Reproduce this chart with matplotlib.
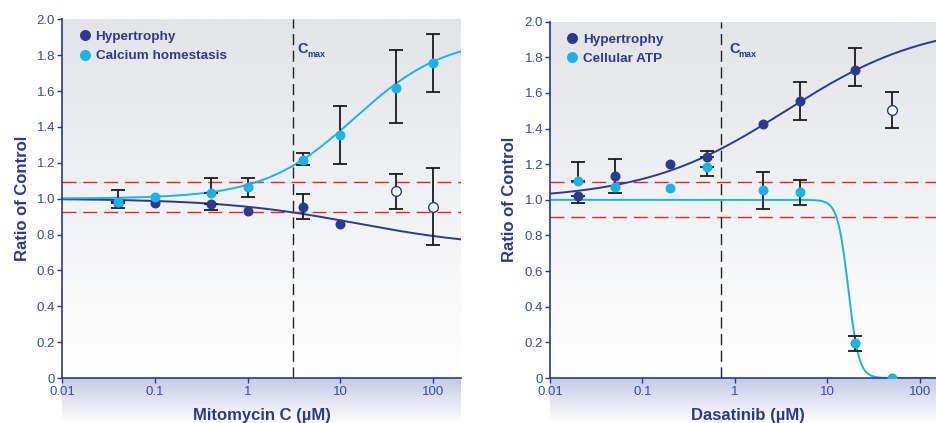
import numpy as np
import matplotlib
matplotlib.use("Agg")
import matplotlib.pyplot as plt
from matplotlib.colors import to_rgb

plt.rcParams['font.family'] = ['Liberation Sans', 'DejaVu Sans']

# ---------------- data: Mitomycin C ----------------
mito_conc = [0.04, 0.1, 0.4, 1, 4, 10, 40, 100]
mito_hyp = [0.975, 0.975, 0.97, 0.93, 0.955, 0.86, 1.04, 0.955]
mito_hyp_lo = [0.027, 0, 0.035, 0, 0.066, 0, 0.10, 0.216]
mito_hyp_hi = [0, 0, 0, 0, 0.070, 0, 0.10, 0.218]
mito_hyp_open = [False, False, False, False, False, False, True, True]
mito_ca = [0.98, 1.01, 1.03, 1.065, 1.215, 1.355, 1.615, 1.755]
mito_ca_lo = [0, 0, 0, 0.055, 0.025, 0.16, 0.192, 0.161]
mito_ca_hi = [0.07, 0, 0.083, 0.048, 0.041, 0.16, 0.214, 0.161]
mito_cmax = 3.08
mito_thresholds = [1.094, 0.925]
# fitted Hill curves (base, plateau, EC50, slope)
mito_hyp_fit = (1.0, 0.725, 15.0, 0.6)
mito_ca_fit = (1.0, 1.9, 14.3, 0.888)

# ---------------- data: Dasatinib ----------------
das_conc = [0.02, 0.05, 0.2, 0.5, 2, 5, 20, 50]
das_hyp = [1.024, 1.135, 1.204, 1.238, 1.425, 1.556, 1.727, 1.504]
das_hyp_lo = [0.039, 0.096, 0, 0, 0, 0.105, 0.088, 0.10]
das_hyp_hi = [0, 0.093, 0, 0.037, 0, 0.107, 0.127, 0.10]
das_hyp_open = [False, False, False, False, False, False, False, True]
das_atp = [1.107, 1.073, 1.069, 1.185, 1.054, 1.045, 0.195, 0.002]
das_atp_lo = [0, 0, 0, 0.052, 0.106, 0.073, 0.043, 0]
das_atp_hi = [0.108, 0, 0, 0, 0.103, 0.069, 0.043, 0]
das_cmax = 0.71
das_thresholds = [1.103, 0.906]
das_hyp_fit = (1.0, 2.0, 3.54, 0.566)
das_atp_fit = (1.0, 0.0, 16.8, 7.55)

y_ticks = [0, 0.2, 0.4, 0.6, 0.8, 1.0, 1.2, 1.4, 1.6, 1.8, 2.0]
y_tick_labels = ['0', '0.2', '0.4', '0.6', '0.8', '1.0', '1.2', '1.4', '1.6', '1.8', '2.0']
x_ticks = [0.01, 0.1, 1, 10, 100]
x_tick_labels = ['0.01', '0.1', '1', '10', '100']

NAVY = '#2b3990'
CYAN = '#19b3ea'
RED = '#e0262c'
TICK = '#3b4a9c'


def hill(x, base, plateau, ec50, n):
    return base + (plateau - base) / (1 + (ec50 / x) ** n)


def gradient(fig, rect, top, bottom, z):
    bax = fig.add_axes(rect, zorder=z)
    t = np.array(to_rgb(top)); b = np.array(to_rgb(bottom))
    f = np.linspace(0, 1, 256)[:, None]
    img = (t * (1 - f) + b * f)[:, None, :]
    bax.imshow(img, aspect='auto', extent=[0, 1, 0, 1], interpolation='bilinear')
    bax.set_axis_off()
    return bax


W, H = 937, 423
fig = plt.figure(figsize=(W / 100, H / 100), dpi=100)


def panel(px_left, px_right, px_top, xmax, conc, hyp, hyp_lo, hyp_hi, hyp_open,
          other, other_lo, other_hi, other_label, hyp_fit, other_fit,
          cmax, thresholds, xlabel, xlabel_x, ylabel_x, cmax_pos, leg_anchor):
    px_bottom = 378
    rect = [px_left / W, 1 - px_bottom / H, (px_right - px_left) / W, (px_bottom - px_top) / H]
    gradient(fig, rect, '#e2e4e8', '#ffffff', 0)
    gradient(fig, [px_left / W, 0, (px_right - px_left) / W, 1 - px_bottom / H], '#c3c9e4', '#ffffff', 0)
    ax = fig.add_axes(rect, zorder=2)
    ax.set_facecolor('none')
    ax.set_xscale('log')
    ax.set_xlim(0.01, xmax)
    ax.set_ylim(0, 2.0)

    for yv in thresholds:
        ax.axhline(yv, color=RED, lw=1.0, dashes=(10, 5), zorder=1)
    ax.axvline(cmax, color='#222222', lw=1.0, dashes=(8, 4), zorder=1)

    xs = np.logspace(-2, np.log10(xmax), 400)
    ax.plot(xs, hill(xs, *hyp_fit), color=NAVY, lw=1.4, zorder=2)
    ax.plot(xs, hill(xs, *other_fit), color=CYAN, lw=1.4, zorder=2)

    conc = np.array(conc, float)
    hyp = np.array(hyp); other = np.array(other)
    hyp_open = np.array(hyp_open)
    for y, lo, hi in ((hyp, hyp_lo, hyp_hi), (other, other_lo, other_hi)):
        lo = np.array(lo); hi = np.array(hi)
        m = (lo + hi) > 0
        ax.errorbar(conc[m], y[m], yerr=[lo[m], hi[m]], fmt='none', ecolor='#1a1a1a',
                    elinewidth=1.3, capsize=5, capthick=1.3, zorder=3)

    ax.plot(conc[~hyp_open], hyp[~hyp_open], 'o', color=NAVY, ms=7.2, mec='none', zorder=4,
            label='Hypertrophy', ls='none')
    ax.plot(conc[hyp_open], hyp[hyp_open], 'o', mfc='white', mec=NAVY, mew=1.0, ms=7,
            zorder=4, ls='none')
    ax.plot(conc, other, 'o', color=CYAN, ms=7.2, mec='none', zorder=5, label=other_label, ls='none')

    ax.set_xticks(x_ticks)
    ax.set_xticklabels(x_tick_labels)
    ax.xaxis.set_minor_locator(matplotlib.ticker.NullLocator())
    ax.set_yticks(y_ticks)
    ax.set_yticklabels(y_tick_labels)
    for s in ('top', 'right'):
        ax.spines[s].set_visible(False)
    for s in ('left', 'bottom'):
        ax.spines[s].set_color(NAVY)
        ax.spines[s].set_linewidth(1.2)
    ax.tick_params(axis='both', colors=NAVY, labelcolor=TICK, labelsize=9.5,
                   length=3.5, width=1.0, direction='out')
    ax.tick_params(axis='y', pad=1.5)
    ax.tick_params(axis='x', pad=2.5)

    ax.set_xlabel(xlabel, fontsize=12, fontweight='bold', color=NAVY)
    ax.xaxis.set_label_coords(xlabel_x, -0.084)
    ax.set_ylabel('Ratio of Control', fontsize=12, fontweight='bold', color=NAVY, va='center')
    ax.yaxis.set_label_coords(ylabel_x, 0.5)

    ax.text(cmax_pos[0], cmax_pos[1], 'C', fontsize=10.5, fontweight='bold', color=NAVY,
            ha='left', va='baseline', zorder=6)
    ax.annotate('max', xy=cmax_pos, xytext=(7.0, -2.9), textcoords='offset points',
                fontsize=6.5, fontweight='bold', color=NAVY, ha='left', va='baseline')

    leg = ax.legend(loc='upper left', bbox_to_anchor=leg_anchor, frameon=False,
                    handlelength=0.8, handletextpad=0.4, labelspacing=0.52,
                    borderaxespad=0, borderpad=0, markerscale=1.1,
                    prop={'size': 9.7, 'weight': 'bold'})
    for t in leg.get_texts():
        t.set_color(NAVY)
    return ax


panel(62, 461, 19.3, 200, mito_conc, mito_hyp, mito_hyp_lo, mito_hyp_hi, mito_hyp_open,
      mito_ca, mito_ca_lo, mito_ca_hi, 'Calcium homestasis', mito_hyp_fit, mito_ca_fit,
      mito_cmax, mito_thresholds, 'Mitomycin C (µM)', 0.50, -0.100, (3.45, 1.81),
      (0.0436, 0.969))

panel(550, 937, 21.7, 153, das_conc, das_hyp, das_hyp_lo, das_hyp_hi, das_hyp_open,
      das_atp, das_atp_lo, das_atp_hi, 'Cellular ATP', das_hyp_fit, das_atp_fit,
      das_cmax, das_thresholds, 'Dasatinib (µM)', 0.512, -0.104, (0.865, 1.822),
      (0.0442, 0.9676))

fig.savefig('out.png', dpi=100)
